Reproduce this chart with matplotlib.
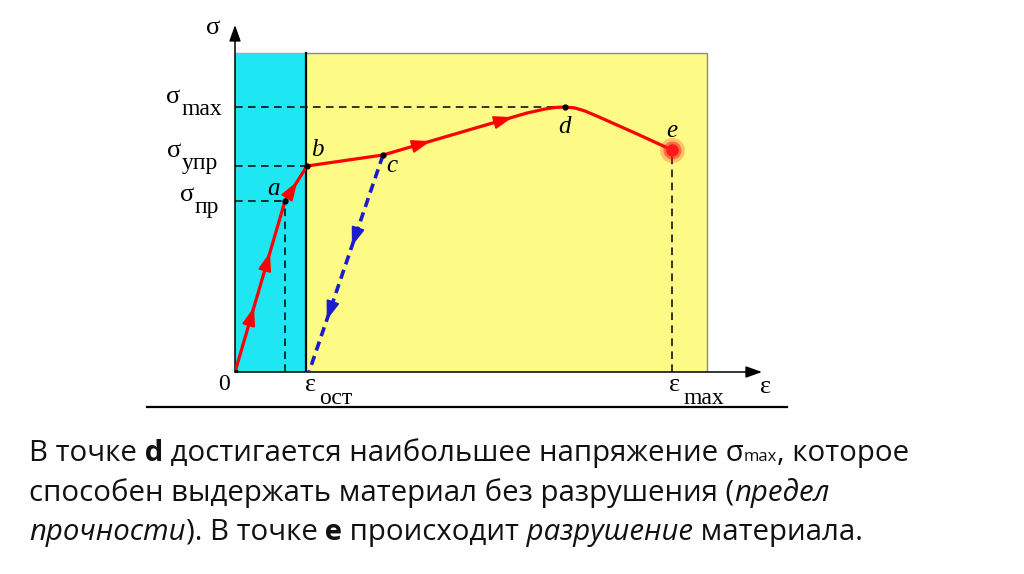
import matplotlib
matplotlib.use('Agg')
import matplotlib.pyplot as plt
from matplotlib.patches import Rectangle

# stress-strain diagram, values (arbitrary units)
curve_strain = [0.0, 0.50, 0.72, 1.48, 2.92, 3.10, 3.20, 3.30, 3.40, 3.50, 3.64, 4.00, 4.37]
curve_stress = [0.0, 1.71, 2.06, 2.17, 2.59, 2.63, 2.645, 2.65, 2.64, 2.61, 2.55, 2.39, 2.22]

point_names = ['a', 'b', 'c', 'd', 'e']
point_strain = [0.50, 0.72, 1.48, 3.30, 4.37]
point_stress = [1.71, 2.06, 2.17, 2.65, 2.22]

eps_elastic = 0.71      # end of cyan zone
eps_residual = 0.74     # ε_ост
eps_max = 4.37
sigma_pr = 1.71
sigma_upr = 2.06
sigma_max = 2.65

W, H = 1024, 574
fig = plt.figure(figsize=(W / 100, H / 100), dpi=100)
fig.patch.set_facecolor('white')

# axes so that 1 unit = 100 px, origin at (235, 372) px
ax = fig.add_axes([235 / W, (H - 372) / H, 535 / W, 352 / H])
ax.set_xlim(0, 5.35)
ax.set_ylim(0, 3.52)
ax.axis('off')

rect_w, rect_h = 4.72, 3.19
ax.add_patch(Rectangle((0, 0), rect_w, rect_h, facecolor='#fdfb86',
                       edgecolor='#8a8a8a', lw=1, zorder=1))
ax.add_patch(Rectangle((0, 0), eps_elastic, rect_h, facecolor='#1ee6f2',
                       edgecolor='none', zorder=1))
ax.plot([eps_elastic, eps_elastic], [0, rect_h], color='black', lw=1.6, zorder=3)

# dashed guide lines
dash = dict(color='black', lw=1.1, dashes=(5, 3.5), zorder=2)
ax.plot([0, point_strain[0]], [sigma_pr, sigma_pr], **dash)
ax.plot([point_strain[0], point_strain[0]], [0, sigma_pr], **dash)
ax.plot([0, point_strain[1]], [sigma_upr, sigma_upr], **dash)
ax.plot([0, point_strain[3]], [sigma_max, sigma_max], **dash)
ax.plot([eps_max, eps_max], [0, point_stress[4]], **dash)

# axes arrows
ap = dict(arrowstyle='-|>,head_length=0.7,head_width=0.25', color='black',
          lw=1.1, shrinkA=0, shrinkB=0, mutation_scale=14)
ax.annotate('', xy=(5.27, 0), xytext=(0, 0), arrowprops=ap, annotation_clip=False, zorder=4)
ax.annotate('', xy=(0, 3.47), xytext=(0, 0), arrowprops=ap, annotation_clip=False, zorder=4)

# loading curve and unloading line
ax.plot(curve_strain, curve_stress, color='#ff0000', lw=2.3, zorder=5,
        solid_capstyle='round', solid_joinstyle='round')
ax.plot([point_strain[2], eps_residual], [point_stress[2], 0], color='#1c1ccc',
        lw=2.6, dashes=(2.6, 1.6), zorder=5)


def arrow_on(p0, p1, frac, color):
    tx = p0[0] + (p1[0] - p0[0]) * frac
    ty = p0[1] + (p1[1] - p0[1]) * frac
    dx, dy = p1[0] - p0[0], p1[1] - p0[1]
    n = (dx ** 2 + dy ** 2) ** 0.5
    ax.annotate('', xy=(tx, ty), xytext=(tx - dx / n * 0.08, ty - dy / n * 0.08),
                arrowprops=dict(arrowstyle='-|>,head_length=0.8,head_width=0.28',
                                color=color, lw=1.5, shrinkA=0, shrinkB=0,
                                mutation_scale=14), zorder=6)


O = (0, 0)
A = (point_strain[0], point_stress[0])
B = (point_strain[1], point_stress[1])
C = (point_strain[2], point_stress[2])
K = (curve_strain[4], curve_stress[4])
arrow_on(O, A, 0.38, '#ff0000')
arrow_on(O, A, 0.70, '#ff0000')
arrow_on(A, B, 0.55, '#ff0000')
arrow_on(C, K, 0.33, '#ff0000')
arrow_on(C, K, 0.90, '#ff0000')
arrow_on(C, (eps_residual, 0), 0.42, '#1c1ccc')
arrow_on(C, (eps_residual, 0), 0.76, '#1c1ccc')

# points
ax.plot(point_strain[:4], point_stress[:4], 'o', color='black', ms=3.5, zorder=7)
ax.plot(O[0], O[1], 's', color='black', ms=3, zorder=7)
for ms, al in [(18, 0.25), (13, 0.5), (9, 1.0)]:
    ax.plot(point_strain[4], point_stress[4], 'o', color='#ff1a1a', ms=ms,
            alpha=al, mec='none', zorder=7)

# point letters
letter_off = [(-0.11, 0.12), (0.10, 0.16), (0.09, -0.11), (-0.01, -0.20), (0.0, 0.19)]
for nm, x, y, (ox, oy) in zip(point_names, point_strain, point_stress, letter_off):
    ax.text(x + ox, y + oy, nm, fontsize=18, style='italic', family='Liberation Serif',
            ha='center', va='center', zorder=8)

# axis labels
serif = dict(family='Liberation Serif', color='black')
ax.text(-0.22, 3.44, 'σ', fontsize=19, ha='center', va='center', **serif)
ax.text(5.31, -0.15, 'ε', fontsize=19, ha='center', va='center', **serif)
ax.text(-0.11, -0.13, '0', fontsize=17, ha='center', va='center', **serif)


def sym_label(x, y, main, sub):
    ax.text(x, y, main, fontsize=19, ha='center', va='center', **serif)
    ax.text(x + 0.08, y - 0.13, sub, fontsize=17, ha='left', va='center', **serif)


sym_label(-0.62, sigma_max + 0.10, 'σ', 'max')
sym_label(-0.61, sigma_upr + 0.15, 'σ', 'упр')
sym_label(-0.48, sigma_pr + 0.06, 'σ', 'пр')
sym_label(eps_residual + 0.02, -0.13, 'ε', 'ост')
sym_label(eps_max + 0.03, -0.13, 'ε', 'max')

ax.plot([-0.88, 5.52], [-0.347, -0.347], color='black', lw=1.6, clip_on=False)

# caption with mixed styles
renderer = fig.canvas.get_renderer()
base = dict(family='Open Sans', fontsize=21.2, color='#111111')


def write_runs(x_px, y_px, runs):
    x = x_px
    for s, st in runs:
        kw = dict(base)
        kw.update(st)
        t = fig.text(x / W, 1 - y_px / H, s, ha='left', va='baseline', **kw)
        x += t.get_window_extent(renderer).width


B_ = dict(weight='bold')
I_ = dict(style='italic')
S_ = dict(fontsize=12)
write_runs(29, 461, [('В точке', {}), (' d', B_), (' достигается наибольшее напряжение σ', {}),
                     ('max', S_), (', которое', {})])
write_runs(29, 501, [('способен выдержать материал без разрушения (', {}), ('предел', I_)])
write_runs(29, 540, [('прочности', I_), ('). В точке', {}), (' e', B_), (' происходит', {}),
                     (' разрушение', I_), (' материала.', {})])

fig.savefig('out.png', dpi=100)
